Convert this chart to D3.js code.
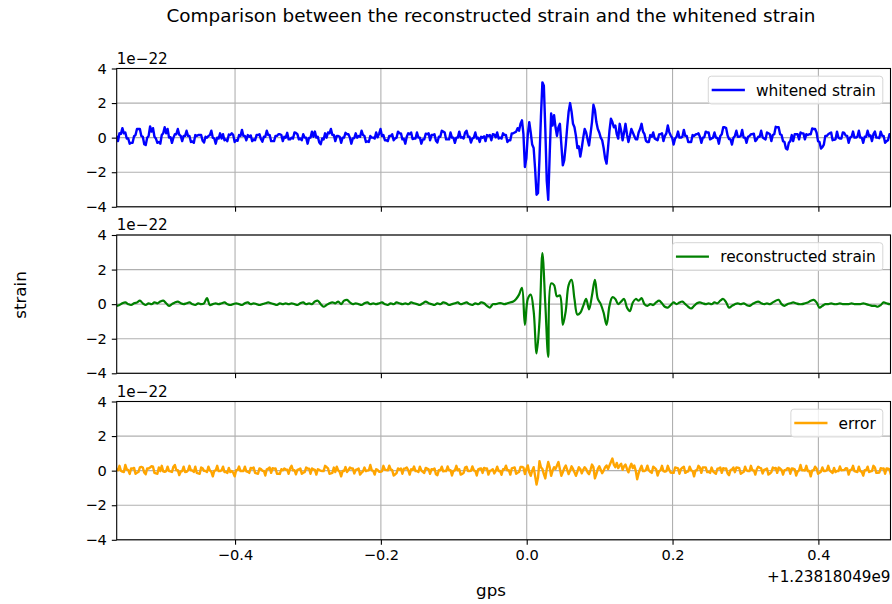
<!DOCTYPE html>
<html>
<head>
<meta charset="utf-8">
<script src="https://cdn.jsdelivr.net/npm/d3@7"></script>
<style>
  body { margin: 0; background: #ffffff; }
  svg { display: block; }
  text { font-family: "DejaVu Sans", sans-serif; fill: #000; }
</style>
</head>
<body>
<svg id="chart" width="892" height="604"></svg>
<script>
// Sampling grids (seconds relative to the GPS offset)
const tStart = -0.5625;
const fineStep = 0.002;    // whitened strain and error
const coarseStep = 0.004;  // reconstructed strain

// Whitened strain, units of 1e-22, one row = 0.04 s
const whitened = [
  0.1, -0.2, 0.25, 0.22, 0.55, 0.25, 0.3, -0.05, -0.05, -0.35, -0.3, -0.3, 0.08, 0.15, 0.5, 0.5, 0.5, 0.1, 0.05, -0.38,
  -0.43, 0.0, 0.1, 0.65, 0.35, 0.55, 0.05, -0.05, -0.3, -0.25, -0.35, 0.15, 0.25, 0.6, 0.25, 0.5, 0.0, 0.03, -0.3, 0.0,
  0.2, 0.2, 0.5, 0.17, 0.1, -0.2, 0.1, 0.1, 0.4, 0.1, 0.1, -0.25, -0.22, -0.3, 0.15, 0.1, 0.15, 0.15, 0.15, -0.18,
  -0.28, 0.05, 0.0, 0.1, 0.15, 0.4, 0.0, -0.05, -0.35, 0.0, -0.05, 0.25, -0.05, 0.2, -0.15, -0.1, -0.2, 0.18, 0.15, 0.25,
  0.15, -0.25, -0.15, -0.18, 0.15, 0.1, 0.45, 0.1, 0.1, -0.15, 0.15, 0.05, 0.13, -0.2, -0.1, -0.15, 0.15, 0.15, 0.2, -0.08,
  -0.23, 0.05, 0.05, 0.4, 0.15, 0.15, -0.2, -0.2, -0.2, 0.1, 0.1, 0.2, 0.2, 0.15, -0.2, 0.05, 0.0, 0.28, -0.1, -0.1,
  0.0, -0.05, 0.3, 0.27, 0.2, -0.1, -0.05, -0.15, 0.2, 0.0, 0.0, -0.35, -0.02, 0.0, 0.35, 0.05, 0.35, 0.0, 0.05, -0.28,
  -0.38, -0.05, -0.1, 0.25, 0.0, 0.3, 0.25, 0.5, 0.15, 0.15, -0.2, 0.1, 0.1, 0.05, -0.3, 0.0, 0.0, 0.28, 0.2, 0.2,
  0.0, -0.35, -0.05, -0.03, 0.25, 0.0, 0.1, 0.05, 0.4, 0.15, 0.1, -0.25, -0.22, -0.25, 0.1, 0.0, 0.0, -0.05, 0.3, 0.02,
  0.22, 0.5, 0.1, 0.15, -0.15, -0.15, -0.2, 0.1, 0.1, 0.2, -0.15, -0.05, 0.0, 0.35, 0.25, 0.25, -0.1, -0.07, -0.35, 0.05,
  0.25, 0.2, 0.3, -0.08, -0.05, -0.05, 0.3, 0.0, 0.0, -0.35, -0.1, -0.1, 0.23, 0.2, 0.25, -0.15, 0.15, 0.15, 0.2, -0.18,
  -0.28, 0.05, 0.05, 0.4, 0.35, 0.3, -0.1, -0.1, -0.1, 0.3, 0.0, 0.0, -0.3, 0.0, 0.0, 0.35, 0.0, 0.03, -0.05, 0.3,
  0.4, 0.05, 0.05, -0.28, -0.05, 0.0, 0.3, -0.05, 0.0, -0.25, 0.05, 0.0, 0.08, -0.2, 0.15, 0.1, 0.15, -0.15, 0.2, 0.17,
  0.02, 0.3, -0.05, 0.0, -0.05, 0.25, 0.15, 0.15, -0.25, -0.15, -0.15, 0.25, 0.25, 0.3, 0.35, 0.55, 0.4, 0.8, 1.0, 0.2,
  -1.7, -1.2, 0.2, 0.9, 0.3, -0.4, -0.6, -1.8, -3.3, -3.2, -1.2, 1.2, 3.2, 3.0, 0.5, -2.5, -3.6, -1.0, 1.4, 0.7,
  1.3, 0.6, 0.1, 0.6, 0.8, -0.4, -1.6, -1.3, -0.45, 0.6, 1.5, 2.0, 1.5, 0.8, 0.6, 0.1, -0.6, -0.5, -1.1, -0.6,
  0.0, 0.5, 0.3, -0.1, -0.45, 0.2, 0.9, 1.9, 1.6, 0.9, 0.5, 0.3, 0.0, -0.15, -0.6, -1.2, -1.5, -0.6, 0.4, 1.1,
  0.9, 0.6, 0.7, 0.2, -0.05, 0.8, 0.4, -0.15, 0.3, 0.8, 0.2, -0.25, 0.1, 0.5, 0.3, 0.1, -0.1, -0.1, 0.3, 0.5,
  0.8, 0.35, 0.2, -0.18, -0.25, -0.25, 0.15, 0.05, 0.3, -0.05, -0.1, -0.15, 0.18, 0.2, 0.25, -0.2, 0.1, 0.25, 0.7, 0.32,
  0.12, 0.0, -0.4, -0.05, 0.05, 0.35, 0.0, 0.0, 0.05, 0.45, 0.1, 0.1, -0.25, -0.25, -0.25, 0.15, 0.1, 0.18, 0.2, 0.25,
  0.05, -0.3, 0.0, 0.02, 0.35, 0.3, 0.3, -0.1, -0.05, 0.0, 0.3, 0.0, -0.02, -0.35, 0.1, 0.2, 0.6, 0.6, 0.55, 0.12,
  -0.08, -0.1, -0.4, 0.0, 0.1, 0.4, 0.05, 0.05, 0.1, 0.45, 0.0, 0.0, -0.3, 0.05, 0.1, 0.2, 0.2, 0.23, -0.2, -0.1,
  0.05, 0.05, 0.4, 0.02, -0.05, -0.1, 0.3, 0.25, 0.2, -0.2, 0.15, 0.2, 0.63, 0.6, 0.6, 0.2, 0.15, -0.2, -0.25, -0.63,
  -0.68, -0.3, -0.2, 0.15, -0.2, 0.2, 0.2, 0.2, -0.1, 0.3, 0.25, 0.25, -0.1, 0.2, 0.15, 0.2, 0.2, 0.53, 0.5, 0.5,
  0.3, -0.2, -0.25, -0.63, -0.55, -0.4, 0.1, 0.1, 0.2, 0.25, 0.3, -0.15, -0.12, -0.1, 0.35, 0.0, -0.05, -0.05, 0.3, 0.27,
  0.12, 0.1, -0.3, 0.0, 0.05, 0.35, 0.0, 0.0, 0.05, 0.4, 0.0, 0.0, -0.3, 0.05, 0.05, 0.4, 0.1, 0.13, -0.2, 0.2,
  0.35, 0.0, 0.0, -0.03, 0.35, 0.1, 0.1, -0.3, -0.2, -0.15, 0.2, 0.1, 0.18
];

// Reconstructed strain, units of 1e-22, one row = 0.04 s
const reconstructed = [
  -0.1, -0.05, 0.05, 0.1, 0.0, -0.05, 0.05, 0.1, 0.2, 0.05,
  -0.05, 0.05, 0.0, 0.1, 0.05, 0.15, 0.2, 0.05, -0.1, 0.0,
  0.1, 0.15, 0.05, 0.0, 0.05, 0.1, 0.0, -0.05, 0.05, 0.0,
  0.05, 0.35, -0.05, 0.0, 0.05, 0.0, 0.05, 0.1, 0.0, -0.05,
  0.0, 0.05, 0.0, -0.05, 0.05, 0.1, 0.0, 0.05, 0.0, -0.05,
  0.0, 0.05, 0.1, 0.05, 0.0, -0.05, 0.05, 0.0, 0.05, 0.0,
  0.05, 0.0, -0.05, 0.05, 0.1, 0.0, 0.05, 0.0, 0.15, 0.2,
  0.0, -0.15, -0.05, 0.05, 0.1, 0.05, 0.15, 0.0, 0.2, 0.25,
  0.1, 0.0, 0.05, 0.0, -0.05, 0.05, 0.1, 0.0, 0.05, 0.0,
  0.05, 0.1, 0.0, -0.05, 0.05, 0.0, 0.1, 0.05, 0.0, 0.05,
  0.0, 0.1, 0.05, 0.0, -0.05, 0.05, 0.15, 0.05, 0.0, -0.05,
  0.05, 0.0, 0.1, 0.05, -0.05, 0.0, 0.05, 0.1, 0.0, 0.05,
  0.1, 0.0, -0.05, 0.05, 0.0, 0.1, 0.05, -0.1, -0.2, 0.0,
  0.0, 0.05, 0.05, 0.0, 0.05, 0.1, 0.15, 0.3, 0.55, 0.95,
  -1.2, 0.3, 0.55, -0.4, -2.85, -1.0, 2.95, 0.0, -3.05, 1.2,
  1.1, 0.45, 0.5, -1.2, -0.4, 1.1, 1.4, 0.3, -0.6, -0.5,
  -0.1, 0.3, -0.3, 0.5, 1.4, 0.3, 0.0, -0.5, -1.2, -0.1,
  0.4, 0.3, 0.0, 0.15, 0.3, -0.2, -0.4, 0.1, 0.3, 0.2,
  0.35, 0.0, -0.1, 0.0, -0.05, 0.1, 0.2, 0.05, -0.15, -0.2,
  -0.05, 0.1, 0.0, 0.1, 0.15, 0.0, -0.15, -0.25, -0.1, 0.05,
  0.1, 0.05, 0.0, 0.05, 0.0, 0.1, 0.05, 0.2, 0.3, 0.1,
  -0.2, -0.1, 0.0, 0.05, 0.0, 0.05, -0.05, -0.1, 0.0, 0.1,
  0.15, 0.05, 0.0, 0.05, 0.0, 0.1, 0.2, 0.25, 0.0, -0.1,
  0.0, 0.05, 0.1, 0.05, 0.0, 0.0, 0.05, 0.1, 0.2, 0.25,
  0.1, -0.2, -0.1, 0.0, 0.0, 0.05, 0.0, 0.0, 0.05, 0.0,
  0.0, 0.0, 0.05, 0.0, 0.0, 0.0, 0.05, 0.0, -0.05, -0.1,
  -0.1, -0.15, -0.05, 0.1, 0.05, 0.0, 0.0
];

// Residual (error), units of 1e-22, one row = 0.04 s
const residual = [
  0.08, 0.02, 0.28, -0.01, -0.06, -0.08, 0.33, 0.07, 0.03, -0.19, 0.13, 0.12, 0.16, -0.18, -0.12, -0.08, 0.19, 0.22, 0.18, -0.11,
  -0.21, 0.13, 0.12, 0.18, 0.26, 0.23, -0.13, -0.16, -0.18, 0.18, -0.03, 0.28, -0.04, -0.07, -0.03, 0.23, -0.03, -0.04, -0.08, 0.23,
  0.33, 0.02, 0.03, -0.26, -0.06, -0.03, 0.23, -0.08, -0.07, 0.01, 0.28, 0.02, 0.01, -0.08, 0.23, -0.13, -0.16, -0.18, 0.18, 0.14,
  -0.01, -0.02, -0.08, 0.23, 0.01, -0.07, -0.33, -0.01, 0.02, 0.28, -0.03, -0.02, 0.01, 0.23, -0.08, -0.07, -0.13, 0.16, -0.08, -0.02,
  -0.12, -0.33, 0.03, 0.04, 0.24, -0.03, -0.02, -0.03, 0.23, -0.04, -0.07, -0.13, 0.16, 0.12, 0.18, -0.13, -0.16, -0.18, 0.13, 0.09,
  -0.01, -0.02, -0.28, 0.08, 0.11, 0.18, -0.13, 0.14, 0.12, 0.13, -0.18, -0.17, -0.19, 0.08, 0.02, 0.13, 0.07, 0.06, -0.18, 0.13,
  0.28, 0.02, 0.03, -0.21, 0.04, 0.07, 0.13, -0.18, -0.12, -0.09, 0.18, 0.12, 0.11, -0.18, 0.13, 0.07, 0.04, -0.23, 0.08, 0.04,
  -0.01, -0.02, -0.03, 0.28, 0.21, 0.13, -0.18, -0.16, -0.13, 0.18, -0.08, 0.23, 0.01, -0.07, -0.33, -0.02, -0.03, 0.21, -0.08, 0.03,
  0.18, 0.12, 0.13, -0.16, 0.04, 0.07, 0.13, -0.23, -0.12, -0.04, 0.18, -0.03, 0.01, 0.02, 0.33, 0.02, -0.01, -0.23, 0.08, 0.04,
  -0.06, -0.07, -0.03, 0.28, 0.06, 0.03, 0.02, 0.29, 0.07, 0.03, -0.28, -0.22, -0.14, 0.13, 0.07, 0.13, -0.18, 0.11, 0.12, 0.18,
  0.03, -0.23, 0.08, 0.04, 0.24, -0.03, -0.02, -0.08, 0.23, 0.01, -0.07, -0.13, 0.16, 0.12, 0.08, -0.18, 0.09, 0.07, 0.13, -0.21,
  -0.26, 0.03, 0.02, 0.23, -0.04, -0.02, -0.03, 0.24, 0.02, 0.03, -0.28, -0.02, 0.01, 0.28, 0.02, 0.08, -0.23, -0.19, -0.13, 0.18,
  0.23, -0.03, -0.02, -0.01, 0.24, 0.02, -0.02, -0.28, 0.08, 0.11, 0.13, -0.13, 0.16, 0.12, 0.13, -0.23, -0.01, 0.02, 0.08, -0.16,
  -0.01, 0.23, -0.03, -0.02, -0.24, 0.08, 0.07, 0.29, 0.02, 0.03, -0.23, 0.13, 0.16, 0.18, -0.18, -0.12, -0.08, 0.21, 0.22, 0.18,
  -0.2, 0.1, 0.3, -0.1, -0.3, 0.0, 0.2, -0.3, -0.8, -0.4, 0.55, 0.2, 0.1, -0.2, -0.45, 0.1, 0.5, 0.2, -0.3, 0.0,
  0.2, 0.1, 0.3, 0.5, 0.1, -0.3, -0.1, 0.15, 0.3, 0.05, -0.2, 0.0, 0.25, 0.1, -0.1, -0.3, -0.05, 0.2, 0.1, -0.15,
  0.05, 0.2, 0.1, -0.1, -0.2, 0.05, 0.35, 0.2, -0.45, -0.2, 0.1, 0.25, 0.05, -0.15, 0.0, 0.2, 0.3, 0.1, 0.3, 0.5,
  0.7, 0.35, 0.2, 0.45, 0.15, 0.3, 0.4, 0.05, 0.25, 0.35, 0.1, -0.1, 0.2, 0.4, 0.15, 0.3, 0.0, -0.5, -0.15, 0.1,
  0.28, -0.03, -0.02, 0.04, 0.29, 0.02, -0.07, -0.13, 0.23, 0.16, 0.08, -0.28, -0.04, 0.02, 0.28, -0.03, -0.06, -0.03, 0.28, 0.04,
  -0.11, -0.12, -0.13, 0.18, 0.16, 0.13, -0.18, 0.09, 0.17, 0.23, -0.13, -0.07, -0.04, 0.23, 0.02, -0.02, -0.33, 0.01, 0.02, 0.28,
  0.18, -0.13, 0.18, 0.19, 0.19, -0.08, -0.07, -0.13, 0.18, -0.04, -0.12, -0.18, 0.11, 0.12, 0.18, -0.13, 0.14, 0.12, 0.13, -0.16,
  -0.26, 0.03, 0.07, 0.18, -0.09, 0.18, 0.17, 0.14, -0.18, -0.12, -0.08, 0.23, 0.01, -0.02, -0.03, 0.28, 0.02, 0.01, -0.23, 0.08,
  0.23, 0.17, 0.13, -0.16, 0.04, 0.07, 0.13, -0.23, -0.17, -0.09, 0.18, 0.12, 0.16, -0.13, 0.18, 0.12, 0.04, -0.23, 0.03, 0.04,
  0.14, 0.13, -0.18, 0.13, 0.11, 0.08, -0.28, -0.06, 0.02, 0.33, 0.02, 0.03, 0.01, 0.28, -0.03, -0.02, -0.33, 0.01, 0.02, 0.23,
  0.13, -0.18, -0.12, -0.06, 0.19, -0.03, -0.02, 0.02, 0.28, 0.01, -0.07, -0.13, 0.16, -0.08, -0.02, -0.03, 0.24, 0.02, 0.03, 0.04,
  0.14, 0.13, -0.23, 0.03, 0.06, 0.28, -0.03, -0.06, -0.08, 0.23, -0.03, -0.07, -0.29, 0.03, 0.02, 0.23, -0.08, -0.04, -0.03, 0.28,
  0.18, -0.13, -0.12, -0.11, 0.14, 0.12, 0.13, -0.18, 0.13, 0.11, 0.08, -0.23, 0.06
];

const seriesLabels = ["whitened strain", "reconstructed strain", "error"];
const seriesColors = ["blue", "green", "orange"];
const xTicks = [-0.4, -0.2, 0.0, 0.2, 0.4];
const yTicks = [-4, -2, 0, 2, 4];
const xDomain = [-0.5623, 0.4989];
const yDomain = [-4, 4];
const titleText = "Comparison between the reconstructed strain and the whitened strain";
const xLabelText = "gps";
const yLabelText = "strain";
const xOffsetText = "+1.23818049e9";
const yOffsetText = "1e\u221222";

// Layout
const W = 892, H = 604;
const plotLeft = 116.7, plotRight = 890.5;
const panelTops = [68.5, 235, 401.5];
const panelH = 138.3;
const tickFont = 14.6, offsetFont = 15.2, legendFont = 15.4, labelFont = 16.7, titleFont = 18.4;
const tickLen = 4.9, tickPad = 4.9;
const gridColor = "#b0b0b0";

const svg = d3.select("#chart");
svg.append("rect").attr("width", W).attr("height", H).attr("fill", "#fff");

const x = d3.scaleLinear().domain(xDomain).range([plotLeft, plotRight]);
const fmt = d => (d < 0 ? "\u2212" : "") + d3.format("")(Math.abs(d));
const fmtX = d => (d < 0 ? "\u2212" : "") + d3.format(".1f")(Math.abs(d));

const panels = [
  { values: whitened, step: fineStep, curve: d3.curveLinear, width: 2.4 },
  { values: reconstructed, step: coarseStep, curve: d3.curveCatmullRom.alpha(0.5), width: 2.2 },
  { values: residual, step: fineStep, curve: d3.curveLinear, width: 2.4 }
];

panels.forEach((p, i) => {
  const top = panelTops[i];
  const y = d3.scaleLinear().domain(yDomain).range([top + panelH, top]);
  const g = svg.append("g");

  // clip region for the trace
  const clipId = "clip" + i;
  svg.append("clipPath").attr("id", clipId)
    .append("rect").attr("x", plotLeft).attr("y", top)
    .attr("width", plotRight - plotLeft).attr("height", panelH);

  // grid
  g.append("g").selectAll("line").data(xTicks).join("line")
    .attr("x1", d => x(d)).attr("x2", d => x(d))
    .attr("y1", top).attr("y2", top + panelH)
    .attr("stroke", gridColor).attr("stroke-width", 1.1);
  g.append("g").selectAll("line").data(yTicks).join("line")
    .attr("x1", plotLeft).attr("x2", plotRight)
    .attr("y1", d => y(d)).attr("y2", d => y(d))
    .attr("stroke", gridColor).attr("stroke-width", 1.1);

  // trace
  const line = d3.line()
    .x((d, k) => x(tStart + k * p.step))
    .y(d => y(d))
    .curve(p.curve);
  g.append("path").datum(p.values)
    .attr("clip-path", `url(#${clipId})`)
    .attr("d", line)
    .attr("fill", "none")
    .attr("stroke", seriesColors[i])
    .attr("stroke-width", p.width)
    .attr("stroke-linejoin", "round");

  // y axis
  const yAxis = d3.axisLeft(y).tickValues(yTicks).tickFormat(fmt)
    .tickSize(tickLen).tickPadding(tickPad);
  const ya = g.append("g").attr("transform", `translate(${plotLeft},0)`).call(yAxis);
  ya.select(".domain").remove();
  ya.selectAll("line").attr("stroke", "#000").attr("stroke-width", 1.1);
  ya.selectAll("text").attr("font-size", tickFont).attr("font-family", "DejaVu Sans").attr("fill", "#000");

  // x axis (labels only on the bottom panel)
  const isBottom = i === panels.length - 1;
  const xAxis = d3.axisBottom(x).tickValues(xTicks)
    .tickFormat(isBottom ? fmtX : () => "")
    .tickSize(tickLen).tickPadding(tickPad);
  const xa = g.append("g").attr("transform", `translate(0,${top + panelH})`).call(xAxis);
  xa.select(".domain").remove();
  xa.selectAll("line").attr("stroke", "#000").attr("stroke-width", 1.1);
  xa.selectAll("text").attr("font-size", tickFont).attr("font-family", "DejaVu Sans").attr("fill", "#000");

  // frame
  g.append("rect").attr("x", plotLeft).attr("y", top)
    .attr("width", plotRight - plotLeft).attr("height", panelH)
    .attr("fill", "none").attr("stroke", "#000").attr("stroke-width", 1.1);

  // scale factor above the y axis
  g.append("text").attr("x", plotLeft).attr("y", top - 5)
    .attr("font-size", offsetFont).text(yOffsetText);

  // legend (upper right)
  const lg = g.append("g");
  const box = lg.append("rect");
  const label = lg.append("text").attr("font-size", legendFont).text(seriesLabels[i]);
  const tw = label.node().getComputedTextLength();
  const boxRight = plotRight - 0.5 * legendFont;
  const boxTop = top + 0.5 * legendFont;
  const boxH = 1.8 * legendFont;
  const textRight = boxRight - 0.45 * legendFont;
  const textLeft = textRight - tw;
  const handleEnd = textLeft - 0.8 * legendFont;
  const handleStart = handleEnd - 2.0 * legendFont;
  const boxLeft = handleStart - 0.3 * legendFont;
  box.attr("x", boxLeft).attr("y", boxTop)
    .attr("width", boxRight - boxLeft).attr("height", boxH)
    .attr("rx", 3).attr("fill", "#fff").attr("fill-opacity", 0.8)
    .attr("stroke", "#d6d6d6").attr("stroke-width", 1);
  label.attr("x", textLeft).attr("y", boxTop + boxH / 2 + 0.36 * legendFont);
  lg.append("line")
    .attr("x1", handleStart).attr("x2", handleEnd)
    .attr("y1", boxTop + boxH / 2).attr("y2", boxTop + boxH / 2)
    .attr("stroke", seriesColors[i]).attr("stroke-width", p.width)
    .attr("stroke-linecap", "square");
});

// x offset text under the bottom axis
svg.append("text").attr("x", plotRight).attr("y", 582)
  .attr("text-anchor", "end").attr("font-size", offsetFont).text(xOffsetText);

// titles and axis labels
svg.append("text").attr("x", 491).attr("y", 22)
  .attr("text-anchor", "middle").attr("font-size", titleFont).text(titleText);
svg.append("text").attr("x", 491).attr("y", 596)
  .attr("text-anchor", "middle").attr("font-size", labelFont).text(xLabelText);
svg.append("text")
  .attr("transform", "translate(26,295) rotate(-90)")
  .attr("text-anchor", "middle").attr("font-size", labelFont).text(yLabelText);
</script>
</body>
</html>
